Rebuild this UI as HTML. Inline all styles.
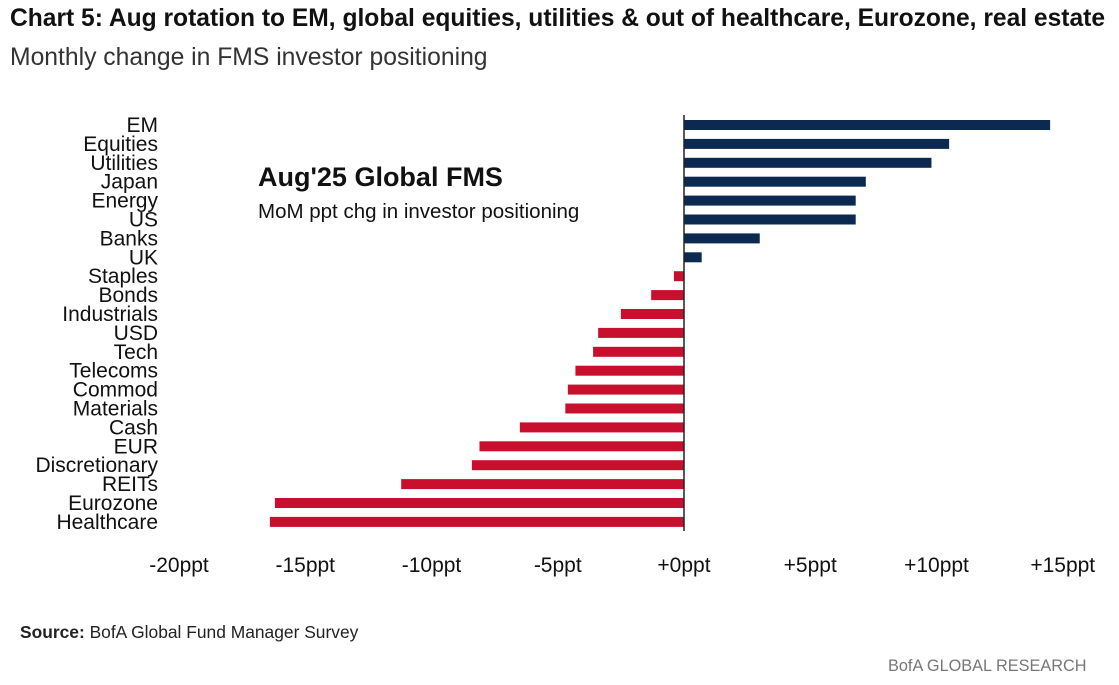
<!DOCTYPE html>
<html><head><meta charset="utf-8"><style>
body{margin:0;background:#fff;width:1119px;height:685px;overflow:hidden;font-family:"Liberation Sans",sans-serif}
.t{position:absolute;white-space:nowrap}
</style></head><body>
<div class="t" style="left:10px;top:5px;font-size:24.6px;font-weight:bold;color:#111">Chart 5: Aug rotation to EM, global equities, utilities &amp; out of healthcare, Eurozone, real estate</div>
<div class="t" style="left:10px;top:44px;font-size:24.7px;color:#333">Monthly change in FMS investor positioning</div>
<svg id="c" width="1119" height="685" style="position:absolute;left:0;top:0"></svg>
<div class="t" style="left:20px;top:622px;font-size:17.4px;color:#222"><b>Source:</b> BofA Global Fund Manager Survey</div>
<div class="t" style="left:888px;top:657px;font-size:16.3px;color:#777">BofA GLOBAL RESEARCH</div>
<script>
const categories=["EM","Equities","Utilities","Japan","Energy","US","Banks","UK","Staples","Bonds","Industrials","USD","Tech","Telecoms","Commod","Materials","Cash","EUR","Discretionary","REITs","Eurozone","Healthcare"];
const values=[14.5,10.5,9.8,7.2,6.8,6.8,3.0,0.7,-0.4,-1.3,-2.5,-3.4,-3.6,-4.3,-4.6,-4.7,-6.5,-8.1,-8.4,-11.2,-16.2,-16.4];
const ticks=[-20,-15,-10,-5,0,5,10,15];
const tickLabels=["-20ppt","-15ppt","-10ppt","-5ppt","+0ppt","+5ppt","+10ppt","+15ppt"];
const NS="http://www.w3.org/2000/svg",svg=document.getElementById('c');
const x=v=>684+v*25.25, y=i=>125+i*18.9;
function mk(t,a){const e=document.createElementNS(NS,t);for(const k in a)e.setAttribute(k,a[k]);svg.appendChild(e);return e;}
values.forEach((v,i)=>{
const r=mk('rect',{x:Math.min(x(0),x(v)),y:y(i)-5,width:Math.abs(x(v)-x(0)),height:10,fill:v>=0?'#0c2a4f':'#c8102e'});


const t=mk('text',{x:158,y:y(i)+7,'text-anchor':'end','font-size':21,fill:'#111','font-family':'Liberation Sans,sans-serif'});
t.textContent=categories[i];


});
const z=mk('line',{x1:x(0),x2:x(0),y1:115,y2:531,stroke:'#222','stroke-width':1.5});


ticks.forEach((v,i)=>{
const t=mk('text',{x:x(v),y:572,'text-anchor':'middle','font-size':21,fill:'#111','font-family':'Liberation Sans,sans-serif'});
t.textContent=tickLabels[i];


});
const a=mk('text',{x:258,y:186,'font-size':27,'font-weight':'bold',fill:'#111','font-family':'Liberation Sans,sans-serif'});
a.textContent="Aug'25 Global FMS";


const b=mk('text',{x:258,y:218,'font-size':20.5,fill:'#111','font-family':'Liberation Sans,sans-serif'});
b.textContent="MoM ppt chg in investor positioning";


</script>
</body></html>
